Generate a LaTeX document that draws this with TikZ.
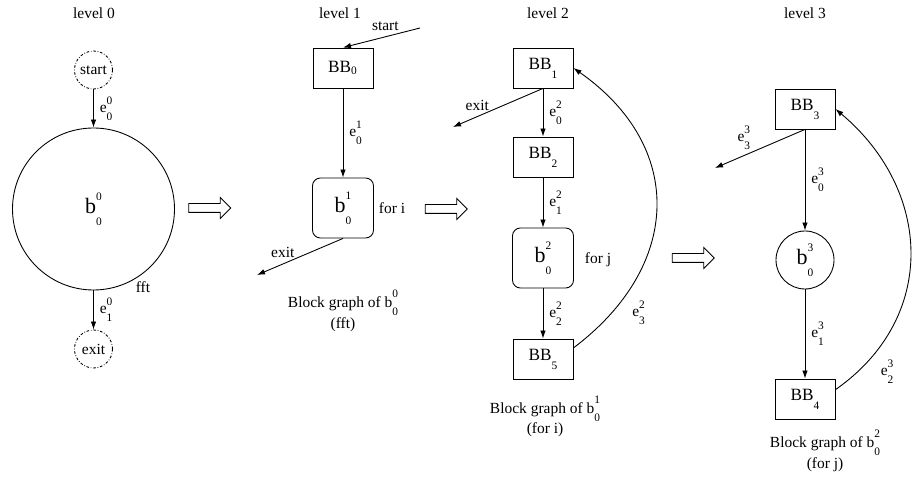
\documentclass[tikz,border=0pt]{standalone}
\usepackage{fontspec}
\setmainfont{Liberation Serif}
\usetikzlibrary{shapes.arrows,arrows.meta}
% base with stacked upper and lower index
\newcommand{\ix}[4][0.5em]{#2\rlap{\raisebox{#1}{\fontsize{6.5}{7}\selectfont #3}}\raisebox{-0.52em}{\fontsize{6.5}{7}\selectfont #4}}

\begin{document}
\begin{tikzpicture}[font=\fontsize{8.8}{10.5}\selectfont, line width=0.5pt, >={Latex[length=1.6mm,width=1.1mm]},
  bb/.style={draw, minimum width=1.2cm, minimum height=0.8cm, inner sep=0pt, font=\fontsize{9.8}{11}\selectfont},
  loopbox/.style={draw, rounded corners=4.5pt, minimum width=1.22cm, minimum height=1.2cm, inner sep=0pt, font=\fontsize{12.5}{14}\selectfont},
  endpt/.style={draw, circle, dash pattern=on 1.5pt off 1pt on 0.4pt off 1pt, minimum size=0.76cm, inner sep=0pt},
  blk/.style={draw, circle, inner sep=0pt, font=\fontsize{12.5}{14}\selectfont},
  refine/.style={draw, single arrow, inner sep=0pt, text height=0.16cm, text depth=0pt, text width=0pt, single arrow head extend=0.12cm, minimum height=0.84cm},
  capt/.style={align=center}]
  \useasboundingbox (0,0) rectangle (18.24,-9.62);
  % level 0
  \node (lv0) at (1.88,-0.26) {level 0};
  \node[endpt] (st0) at (1.87,-1.40) {start};
  \node[blk, minimum size=3.24cm] (b00) at (1.87,-4.18) {\ix[0.62em]{b}{0}{0}};
  \node[endpt] (ex0) at (1.87,-6.98) {exit};
  \draw[->] (st0) -- node[right] {\ix{e}{0}{0}} (b00);
  \draw[->] (b00) -- node[right] {\ix{e}{0}{1}} (ex0);
  \node (fft) at (2.86,-5.74) {fft};
  \node[refine] (r01) at (4.15,-4.16) {};
  % level 1
  \node (lv1) at (6.80,-0.26) {level 1};
  \node[bb] (bb0) at (6.86,-1.36) {BB$_{\hbox{\fontsize{6.5}{7}\selectfont 0}}$};
  \node[loopbox] (b10) at (6.86,-4.16) {\ix[0.62em]{b}{1}{0}};
  \node (fori) at (7.84,-4.16) {for i};
  \coordinate (st1) at (8.40,-0.56);
  \coordinate (ex1) at (5.14,-5.50);
  \draw[->] (st1) -- node[pos=0.45, above] {start} (bb0.north);
  \draw[->] (bb0) -- node[right] {\ix{e}{1}{0}} (b10);
  \draw[->] (b10.south) -- node[pos=0.7, above] {exit} (ex1);
  \node[capt] (c1) at (6.86,-6.22) {Block graph of \ix[0.62em]{b}{0}{0}\\(fft)};
  \node[refine] (r12) at (8.88,-4.18) {};
  % level 2
  \node (lv2) at (10.96,-0.26) {level 2};
  \node[bb] (bb1) at (10.86,-1.36) {\ix{BB}{}{1}};
  \node[bb] (bb2) at (10.86,-3.14) {\ix{BB}{}{2}};
  \node[loopbox] (b20) at (10.86,-5.16) {\ix[0.62em]{b}{2}{0}};
  \node[bb] (bb5) at (10.86,-7.18) {\ix{BB}{}{5}};
  \node (forj) at (11.96,-5.20) {for j};
  \coordinate (ex2) at (9.06,-2.54);
  \draw[->] (bb1.south) -- node[pos=0.73, above] {exit} (ex2);
  \draw[->] (bb1) -- node[right] {\ix{e}{2}{0}} (bb2);
  \draw[->] (bb2) -- node[right] {\ix{e}{2}{1}} (b20);
  \draw[->] (b20) -- node[right] {\ix{e}{2}{2}} (bb5);
  \draw[->] (bb5.20) to[out=37, in=-35, looseness=1.25] node[pos=0.2, below right] {\ix{e}{2}{3}} (bb1.east);
  \node[capt] (c2) at (10.90,-8.33) {Block graph of \ix[0.62em]{b}{1}{0}\\(for i)};
  \node[refine] (r23) at (13.82,-5.16) {};
  % level 3
  \node (lv3) at (16.10,-0.26) {level 3};
  \node[bb] (bb3) at (16.10,-2.18) {\ix{BB}{}{3}};
  \node[blk, minimum size=1.16cm] (b30) at (16.10,-5.20) {\ix[0.62em]{b}{3}{0}};
  \node[bb] (bb4) at (16.10,-7.98) {\ix{BB}{}{4}};
  \coordinate (ex3) at (14.30,-3.36);
  \draw[->] (bb3.south) -- node[pos=0.68, above] {\ix{e}{3}{3}} (ex3);
  \draw[->] (bb3) -- node[right] {\ix{e}{3}{0}} (b30);
  \draw[->] (b30) -- node[right] {\ix{e}{3}{1}} (bb4);
  \draw[->] (bb4.17) to[out=35, in=-40, looseness=1.15] node[pos=0.15, below right] {\ix{e}{3}{2}} (bb3.east);
  \node[capt] (c3) at (16.50,-9.02) {Block graph of \ix[0.62em]{b}{2}{0}\\(for j)};
\end{tikzpicture}
\end{document}
